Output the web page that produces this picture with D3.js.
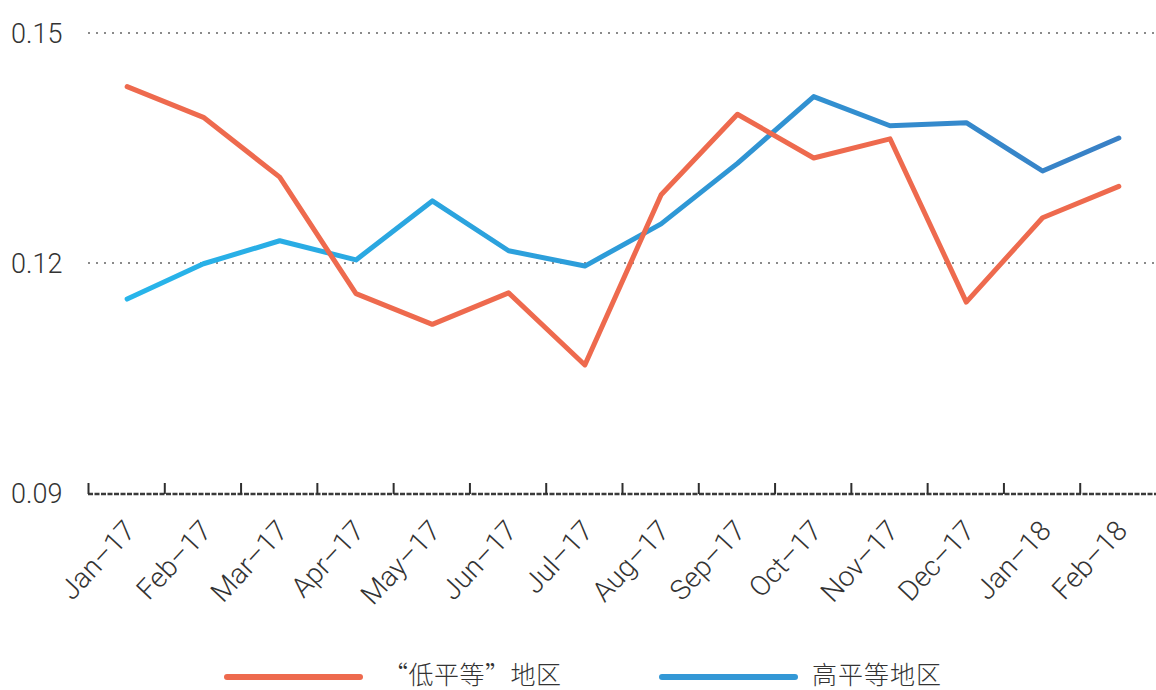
<!DOCTYPE html>
<html>
<head>
<meta charset="utf-8">
<script src="https://cdn.jsdelivr.net/npm/d3@7"></script>
<style>
  html, body { margin: 0; padding: 0; background: #fff; }
  svg text { font-family: "Roboto", "Liberation Sans", sans-serif; font-weight: 300; fill: #333; }
  .cjk { font-family: "Noto Sans CJK SC", sans-serif; font-weight: 300; }
</style>
</head>
<body>
<svg id="chart" width="1156" height="690"></svg>
<script>
// months on the x axis
const months = ["Jan–17", "Feb–17", "Mar–17", "Apr–17", "May–17", "Jun–17", "Jul–17",
  "Aug–17", "Sep–17", "Oct–17", "Nov–17", "Dec–17", "Jan–18", "Feb–18"];

// "low equality" regions
const lowValues = [0.1430, 0.1390, 0.1312, 0.1160, 0.1120, 0.1161, 0.1067,
  0.1289, 0.1394, 0.1337, 0.1362, 0.1149, 0.1259, 0.1300];

// high equality regions
const highValues = [0.1153, 0.1199, 0.1229, 0.1204, 0.1281, 0.1216, 0.1196,
  0.1251, 0.1330, 0.1417, 0.1379, 0.1383, 0.1320, 0.1363];

const yTicks = [0.09, 0.12, 0.15];
const seriesNames = ["“低平等”地区", "高平等地区"];

const svg = d3.select("#chart");

// margins picked so the plot sits like the original
const plotLeft = 89, plotRight = 1157, plotTop = 33, plotBottom = 493;

const x = d3.scaleBand().domain(months).range([plotLeft, plotRight]);
const y = d3.scaleLinear().domain([0.09, 0.15]).range([plotBottom, plotTop]);

// blue line fades from light cyan to deeper blue
const defs = svg.append("defs");
const grad = defs.append("linearGradient")
  .attr("id", "blueGrad")
  .attr("gradientUnits", "userSpaceOnUse")
  .attr("x1", x(months[0])).attr("x2", x(months[months.length - 1]) + x.bandwidth())
  .attr("y1", 0).attr("y2", 0);
grad.append("stop").attr("offset", "0%").attr("stop-color", "#27b7ec");
grad.append("stop").attr("offset", "55%").attr("stop-color", "#2e98d6");
grad.append("stop").attr("offset", "100%").attr("stop-color", "#3a7ec4");

// dotted grid lines (skip the baseline)
svg.append("g")
  .selectAll("line")
  .data(yTicks.filter((d) => d !== 0.09))
  .enter()
  .append("line")
  .attr("x1", plotLeft - 1)
  .attr("x2", 1156)
  .attr("y1", (d) => y(d))
  .attr("y2", (d) => y(d))
  .attr("stroke", "#8a8a8a")
  .attr("stroke-width", 2)
  .attr("stroke-dasharray", "2,6");

// y labels
svg.append("g")
  .selectAll("text")
  .data(yTicks)
  .enter()
  .append("text")
  .attr("x", 11)
  .attr("y", (d) => y(d))
  .attr("dy", "0.36em")
  .attr("font-size", 27)
  .attr("fill", "#444")
  .text((d) => d.toFixed(2));

// x axis: dashed baseline with ticks pointing up
const xAxis = svg.append("g");
xAxis.append("line")
  .attr("x1", plotLeft - 1).attr("x2", 1156)
  .attr("y1", plotBottom + 1).attr("y2", plotBottom + 1)
  .attr("stroke", "#3a3a3a")
  .attr("stroke-width", 2.5)
  .attr("stroke-dasharray", "5,1.5");
xAxis.selectAll(".tick")
  .data(months)
  .enter()
  .append("line")
  .attr("class", "tick")
  .attr("x1", (d) => x(d) - 0.5)
  .attr("x2", (d) => x(d) - 0.5)
  .attr("y1", plotBottom + 1)
  .attr("y2", plotBottom - 10)
  .attr("stroke", "#2e2e2e")
  .attr("stroke-width", 2);

// rotated month labels
xAxis.selectAll(".lbl")
  .data(months)
  .enter()
  .append("text")
  .attr("class", "lbl")
  .attr("text-anchor", "end")
  .attr("font-size", 28)
  .attr("transform", (d) => "translate(" + (x(d) + x.bandwidth() / 2 + 10) + "," + (plotBottom + 39) + ") rotate(-47)")
  .text((d) => d);

const line = d3.line()
  .x((d, i) => x(months[i]) + x.bandwidth() / 2)
  .y((d) => y(d));

svg.append("path")
  .datum(highValues)
  .attr("d", line)
  .attr("fill", "none")
  .attr("stroke", "url(#blueGrad)")
  .attr("stroke-width", 5)
  .attr("stroke-linecap", "round")
  .attr("stroke-linejoin", "round");

svg.append("path")
  .datum(lowValues)
  .attr("d", line)
  .attr("fill", "none")
  .attr("stroke", "#ee6a4e")
  .attr("stroke-width", 5)
  .attr("stroke-linecap", "round")
  .attr("stroke-linejoin", "round");

// legend
const legendItems = [
  { name: seriesNames[0], color: "#ee6a4e", x: 227, tx: 156 },
  { name: seriesNames[1], color: "#3398d6", x: 662, tx: 150 }
];
const legend = svg.append("g")
  .selectAll("g")
  .data(legendItems)
  .enter()
  .append("g")
  .attr("transform", (d) => "translate(" + d.x + ",676)");
legend.append("line")
  .attr("x1", 0).attr("x2", 133)
  .attr("y1", 1).attr("y2", 1)
  .attr("stroke", (d) => d.color)
  .attr("stroke-width", 6)
  .attr("stroke-linecap", "round");
legend.append("text")
  .attr("class", "cjk")
  .attr("x", (d) => d.tx)
  .attr("y", -1)
  .attr("dy", "0.34em")
  .attr("font-size", 25)
  .attr("textLength", (d, i) => (i === 0 ? 178 : 129))
  .text((d) => d.name);
</script>
</body>
</html>
